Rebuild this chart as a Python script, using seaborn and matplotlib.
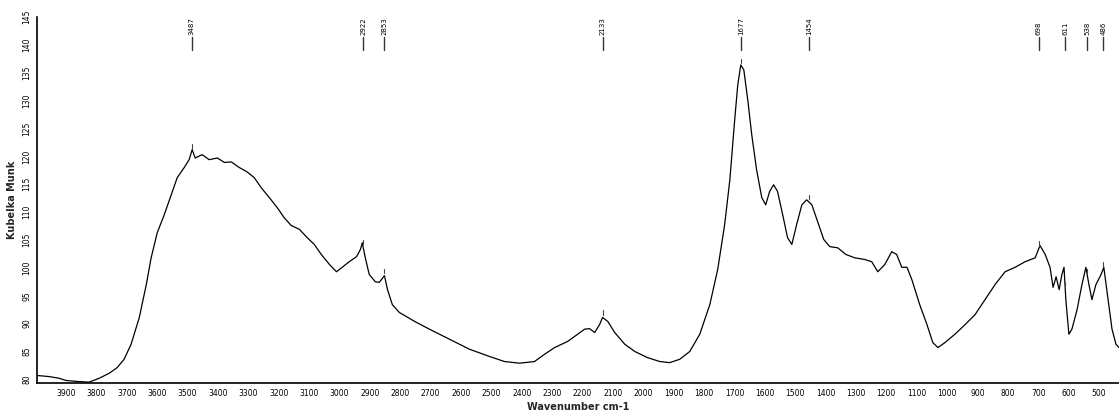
import numpy as np
import pandas as pd
import matplotlib
matplotlib.use("Agg")
import matplotlib.pyplot as plt
import matplotlib.transforms as mtransforms
import seaborn as sns

# Spectrum: wavenumber (cm-1) and Kubelka-Munk intensity
wavenumber = [3996, 3956, 3923, 3900, 3857, 3824, 3791, 3758, 3732, 3709,
              3686, 3659, 3636, 3620, 3600, 3577, 3554, 3534, 3511, 3495,
              3485, 3475, 3452, 3429, 3402, 3379, 3356, 3330, 3304, 3281,
              3258, 3231, 3205, 3182, 3159, 3132, 3106, 3083, 3060, 3033,
              3010, 2991, 2968, 2944, 2931, 2925, 2915, 2902, 2882, 2869,
              2852, 2842, 2826, 2803, 2753, 2704, 2638, 2572, 2506, 2457,
              2407, 2358, 2325, 2292, 2249, 2216, 2193, 2177, 2160, 2144,
              2134, 2117, 2094, 2061, 2028, 1986, 1946, 1913, 1880, 1847,
              1814, 1781, 1755, 1732, 1715, 1699, 1689, 1679, 1669, 1656,
              1643, 1627, 1610, 1597, 1584, 1571, 1558, 1541, 1525, 1511,
              1495, 1478, 1462, 1445, 1426, 1406, 1386, 1360, 1333, 1304,
              1271, 1248, 1228, 1205, 1182, 1166, 1149, 1132, 1116, 1090,
              1066, 1047, 1030, 1007, 974, 941, 908, 875, 842, 809,
              776, 743, 710, 694, 677, 661, 651, 641, 631, 622,
              615, 609, 599, 589, 572, 556, 543, 533, 523, 510,
              493, 484, 470, 457, 444, 434]
km = [80.7, 80.5, 80.2, 79.8, 79.6, 79.5, 80.2, 81.1, 82.1, 83.6,
      86.3, 91.1, 97.0, 101.8, 106.3, 109.5, 113.1, 116.2, 118.0, 119.4,
      121.2, 119.7, 120.3, 119.4, 119.7, 118.9, 119.0, 118.0, 117.2, 116.2,
      114.4, 112.6, 110.8, 109.0, 107.6, 106.9, 105.4, 104.2, 102.4, 100.6,
      99.3, 100.1, 101.1, 102.0, 103.3, 104.5, 101.8, 98.8, 97.5, 97.4,
      98.6, 96.1, 93.4, 92.0, 90.4, 89.0, 87.2, 85.4, 84.1, 83.2,
      82.9, 83.2, 84.5, 85.7, 86.8, 88.1, 89.0, 89.1, 88.4, 89.8,
      91.1, 90.4, 88.4, 86.3, 85.0, 83.9, 83.2, 83.0, 83.6, 85.0,
      88.1, 93.4, 99.7, 107.8, 115.8, 126.6, 132.8, 136.4, 135.5, 130.1,
      123.9, 117.6, 112.6, 111.3, 113.7, 114.9, 113.7, 109.5, 105.4, 104.2,
      107.8, 111.3, 112.2, 111.3, 108.3, 105.1, 103.8, 103.6, 102.4, 101.8,
      101.5, 101.1, 99.3, 100.6, 102.9, 102.4, 100.1, 100.1, 97.9, 93.4,
      89.8, 86.6, 85.7, 86.6, 88.1, 89.8, 91.6, 94.3, 97.0, 99.3,
      100.1, 101.1, 101.8, 104.0, 102.4, 100.1, 96.5, 98.4, 96.1, 98.8,
      100.1, 94.3, 88.1, 89.0, 92.5, 97.0, 100.1, 97.0, 94.3, 97.0,
      98.8, 100.1, 94.3, 89.0, 86.3, 85.7]

# Picked peaks: position on the axis and printed label
peak_pos = [3487, 2922, 2853, 2133, 1677, 1454, 698, 611, 538, 486]
peak_labels = ["3487", "2922", "2853", "2133", "1677", "1454", "698", "611", "538", "486"]

x_ticks = list(range(3900, 499, -100))
y_ticks = list(range(80, 146, 5))

sns.set_style("white")
plt.rcParams["font.family"] = ["DejaVu Sans"]

fig = plt.figure(figsize=(11.19, 4.13), dpi=100)
ax = fig.add_axes([0.033, 0.072, 0.967, 0.887])

df = pd.DataFrame({"Wavenumber": wavenumber, "KM": km})
sns.lineplot(data=df, x="Wavenumber", y="KM", ax=ax, color="black",
             linewidth=0.9, sort=False, estimator=None)

ax.set_xlim(3996, 434)
ax.set_ylim(79.3, 145)

ax.set_xticks(x_ticks)
ax.set_xticklabels([str(t) for t in x_ticks], fontsize=5.5)
ax.set_yticks(y_ticks)
ax.set_yticklabels([str(t) for t in y_ticks], fontsize=5.5, rotation=90, va="center")
ax.tick_params(axis="both", direction="inout", length=4, width=0.8, pad=2, colors="black")

for side in ["top", "right"]:
    ax.spines[side].set_visible(False)
for side in ["left", "bottom"]:
    ax.spines[side].set_color("black")
    ax.spines[side].set_linewidth(1.2)

ax.set_xlabel("Wavenumber cm-1", fontsize=7, fontweight="bold", labelpad=3)
ax.set_ylabel("Kubelka Munk", fontsize=7, fontweight="bold", labelpad=4)

# Peak markers along the top edge, plus a small tick just above each peak
trans = mtransforms.blended_transform_factory(ax.transData, ax.transAxes)
wn_rev = wavenumber[::-1]
km_rev = km[::-1]
for pos, lab in zip(peak_pos, peak_labels):
    ax.plot([pos, pos], [0.91, 0.945], transform=trans, color="#333333",
            linewidth=1.0, clip_on=False)
    ax.text(pos, 0.95, lab, transform=trans, rotation=90, fontsize=5,
            ha="center", va="bottom", color="black", clip_on=False)
    top = np.interp(pos, wn_rev, km_rev)
    ax.plot([pos, pos], [top + 0.5, top + 1.3], color="#444444", linewidth=0.8)

fig.savefig("out.png", dpi=100)
